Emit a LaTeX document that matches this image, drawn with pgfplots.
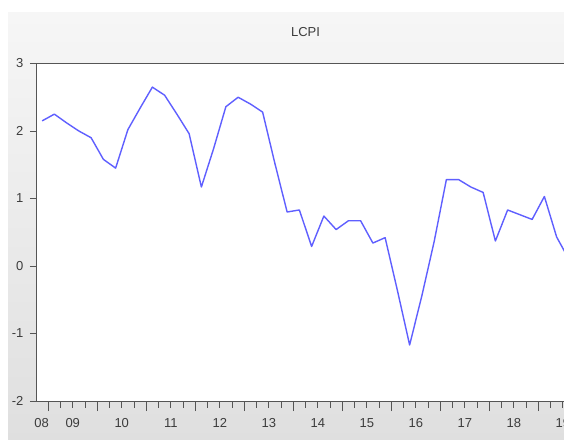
\documentclass[border=0pt]{standalone}
\usepackage{pgfplots}
\pgfplotsset{compat=1.18}
\usepackage{fontspec}
\setmainfont{Liberation Sans}
\definecolor{linec}{RGB}{95,95,255}
\definecolor{axc}{RGB}{85,85,85}
\definecolor{txt}{RGB}{60,60,60}
\begin{document}
\begin{tikzpicture}[x=1pt,y=1pt]
\path[use as bounding box] (0,0) rectangle (564,439);
\clip (0,0) rectangle (564,439);
\fill[white] (0,0) rectangle (564,439);
\shade[top color=gray!7, bottom color=gray!25] (8,0) rectangle (564,426.5);
\begin{axis}[
  at={(36pt,38pt)}, anchor=south west,
  scale only axis, width=539pt, height=337.5pt,
  xmin=-0.5, xmax=43.5, ymin=-2, ymax=3,
  axis background/.style={fill=white},
  axis line style={draw=axc, line width=1pt},
  tick pos=left, tick align=outside,
  tick style={draw=axc, line width=0.8pt},
  major tick length=10pt, minor tick length=6.5pt,
  xtick={0.5,4.5,8.5,12.5,16.5,20.5,24.5,28.5,32.5,36.5,40.5},
  xticklabels={},
  minor xtick={1.5,2.5,3.5,5.5,6.5,7.5,9.5,10.5,11.5,13.5,14.5,15.5,17.5,18.5,19.5,21.5,22.5,23.5,25.5,26.5,27.5,29.5,30.5,31.5,33.5,34.5,35.5,37.5,38.5,39.5,41.5,42.5},
  extra x ticks={-0.05,2.5,6.5,10.5,14.5,18.5,22.5,26.5,30.5,34.5,38.5,42.5},
  extra x tick labels={08,09,10,11,12,13,14,15,16,17,18,19},
  extra x tick style={major tick length=0pt, tick style={draw=none},
     tick label style={yshift=-14pt}},
  ytick=\empty,
  extra y ticks={-2,-1,0,1,2,3},
  extra y tick style={major tick length=6pt, tick label style={xshift=-3pt}},
  tick label style={font=\fontsize{13}{15}\selectfont, text=txt},
  /pgf/number format/assume math mode=true,
  title={LCPI},
  title style={at={(0.5,1)}, anchor=center, yshift=25.5pt,
     font=\fontsize{13}{15}\selectfont, text=txt},
]
\addplot[color=linec, line width=1.4pt, no marks, line join=round] coordinates {
(0,2.15) (1,2.25) (2,2.12) (3,2.00) (4,1.90) (5,1.58) (6,1.45) (7,2.02)
(8,2.34) (9,2.65) (10,2.53) (11,2.25) (12,1.96) (13,1.17) (14,1.74) (15,2.36)
(16,2.50) (17,2.40) (18,2.28) (19,1.52) (20,0.80) (21,0.83) (22,0.29) (23,0.74)
(24,0.54) (25,0.67) (26,0.67) (27,0.34) (28,0.42) (29,-0.36) (30,-1.17) (31,-0.44)
(32,0.36) (33,1.28) (34,1.28) (35,1.17) (36,1.09) (37,0.37) (38,0.83) (39,0.76)
(40,0.69) (41,1.03) (42,0.43) (43,0.10)
};
\end{axis}
\end{tikzpicture}
\end{document}
